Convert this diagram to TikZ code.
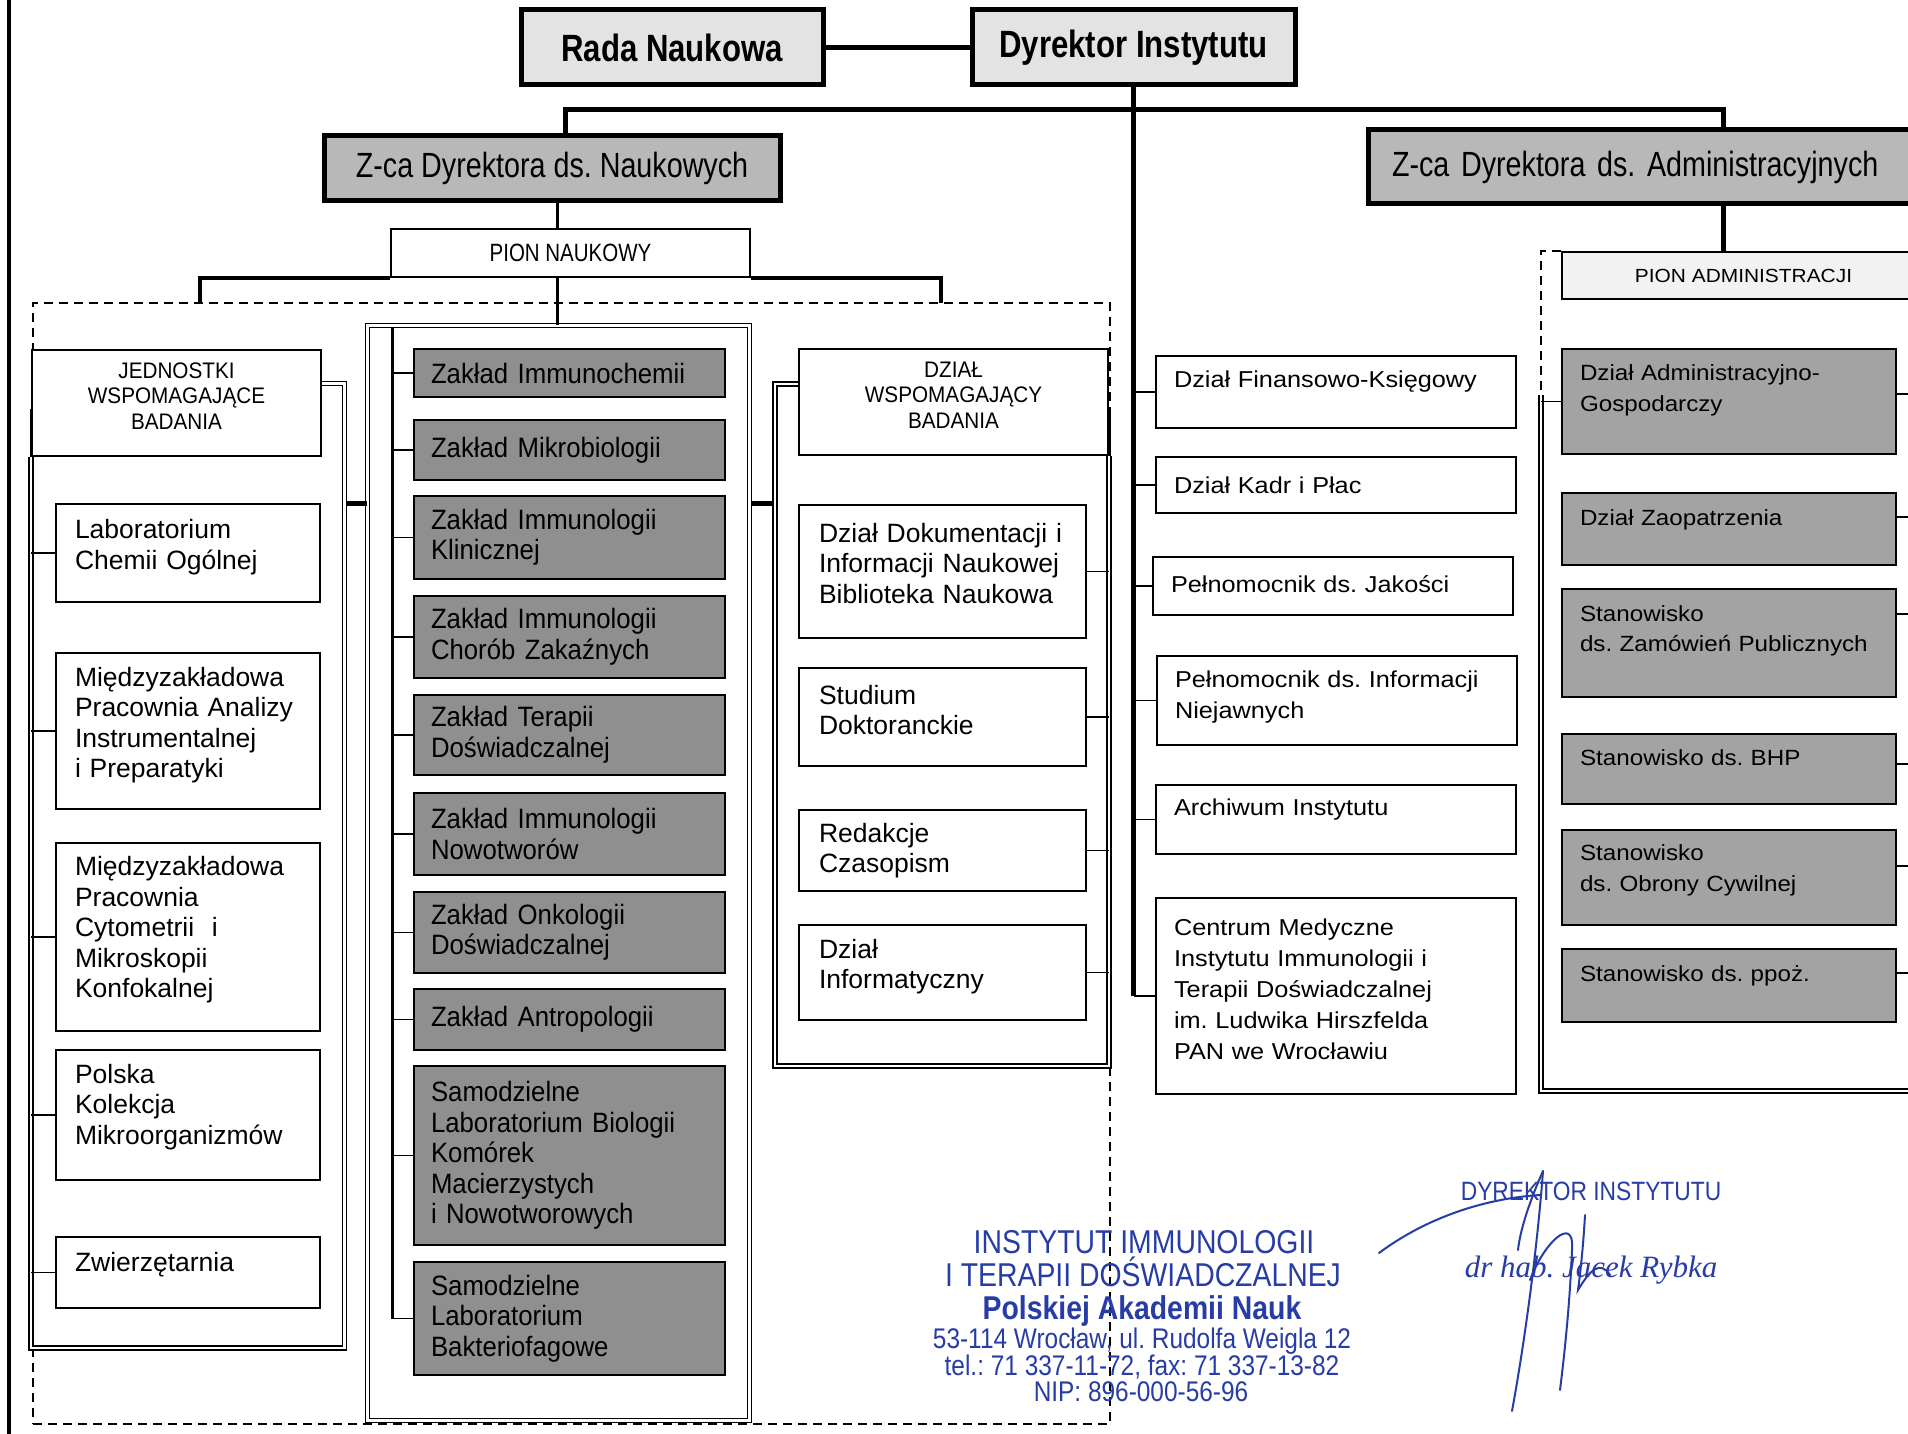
\documentclass[tikz,border=0pt]{standalone}
\usepackage{fontspec}
\setmainfont{Liberation Sans}
\newfontfamily\narrowf{Liberation Sans}[FakeStretch=0.82]
\newfontfamily\zakf{Liberation Sans}[FakeStretch=0.92]
\newfontfamily\widef{Liberation Sans}[FakeStretch=1.1]
\newfontfamily\stampf{Liberation Sans}[FakeStretch=0.86]
\newfontfamily\sigf{Liberation Serif}
\frenchspacing
\definecolor{topgray}{gray}{0.89}
\definecolor{zgray}{gray}{0.72}
\definecolor{dgray}{gray}{0.56}
\definecolor{rgray}{gray}{0.64}
\definecolor{pagray}{gray}{0.95}
\definecolor{stampblue}{RGB}{40,60,165}
\tikzset{
  conn/.style={line width=5pt},
  midline/.style={line width=3pt},
  thinline/.style={line width=1.6pt},
  dbl/.style={draw, double, line width=1.3pt, double distance=2.6pt},
  dframe/.style={draw, dashed, dash pattern=on 9pt off 6pt, line width=1.5pt},
  raisetext/.style={execute at end node={\par\vspace*{#1pt}}},
  topbox/.style={draw, line width=5pt, fill=topgray, inner sep=0pt, font=\narrowf\bfseries\fontsize{38}{44}\selectfont},
  zcbox/.style={draw, line width=5pt, fill=zgray, inner sep=0pt, font=\narrowf\fontsize{35}{40}\selectfont},
  pionbox/.style={draw, line width=1.8pt, inner sep=0pt},
  headbox/.style={draw, line width=2pt, fill=white, align=center, inner xsep=0pt, inner ysep=0pt, text width=280pt, font=\zakf\fontsize{22.5}{25.5}\selectfont},
  wbox/.style={draw, line width=2pt, fill=white, align=left, inner xsep=19pt, inner ysep=0pt, text width=226pt, minimum width=264pt, font=\fontsize{26.5}{30.5}\selectfont},
  ddbox/.style={draw, line width=2pt, fill=white, align=left, inner xsep=20pt, inner ysep=0pt, text width=247pt, minimum width=287pt, font=\fontsize{26.5}{30.5}\selectfont},
  dbox/.style={draw, line width=2.5pt, fill=dgray, align=left, inner xsep=17pt, inner ysep=0pt, text width=277pt, minimum width=311pt, font=\zakf\fontsize{28}{30.5}\selectfont},
  mbox/.style={draw, line width=2pt, fill=white, align=left, inner xsep=18pt, inner ysep=0pt, text width=324pt, minimum width=360pt, font=\widef\fontsize{23}{31}\selectfont},
  rbox/.style={draw, line width=2.5pt, fill=rgray, align=left, inner xsep=18pt, inner ysep=0pt, text width=298pt, minimum width=334pt, font=\widef\fontsize{22}{30.5}\selectfont},
  stampbig/.style={text=stampblue, inner sep=0pt, text height=24pt, text depth=0pt, font=\stampf\fontsize{33}{36}\selectfont},
  stampsmall/.style={text=stampblue, inner sep=0pt, text height=20pt, text depth=0pt, font=\stampf\fontsize{28.4}{31}\selectfont},
  sig/.style={draw=stampblue, line width=2pt, line cap=round}
}
\begin{document}
\begin{tikzpicture}[x=1pt,y=-1pt]
\useasboundingbox (0,0) rectangle (1908,1434);
\clip (0,0) rectangle (1908,1434);
\fill[white] (0,0) rectangle (1908,1434);

% left edge line
\coordinate (le1) at (9,0);
\coordinate (le2) at (9,1434);
\draw[line width=4pt] (le1) -- (le2);

% dashed frame of scientific division
\node[dframe, minimum width=1077pt, minimum height=1121pt, inner sep=0pt] (dsh) at (571.5,863.5) {};

% top level
\node[topbox, minimum width=302pt, minimum height=75pt] (rada) at (672,47.5) {Rada Naukowa};
\node[topbox, minimum width=323pt, minimum height=75pt] (dyr) at (1133.5,47.5) {Dyrektor Instytutu};
\node[zcbox, minimum width=456pt, minimum height=65pt] (zn) at (552,168.5) {Z-ca Dyrektora ds. Naukowych};
\node[zcbox, minimum width=557pt, minimum height=74pt, align=left, inner xsep=24pt, text width=509pt] (za) at (1646.5,167) {Z-ca Dyrektora ds. Administracyjnych};
\node[pionbox, fill=white, minimum width=359pt, minimum height=48pt, font=\narrowf\fontsize{25}{28}\selectfont] (pn) at (570.5,253) {PION NAUKOWY};
\node[pionbox, fill=pagray, minimum width=363pt, minimum height=47pt, font=\widef\fontsize{19}{22}\selectfont] (pa) at (1743.5,275.5) {PION ADMINISTRACJI};

% containers
\node[dbl, minimum width=382pt, minimum height=1095pt, inner sep=0pt] (cc) at (558.5,873) {};

% connectors top
\draw[conn] (rada) -- (dyr);
\coordinate (hl) at (565,110);
\coordinate (hr) at (1723,110);
\draw[conn] (zn.north -| hl) -- (hl) -- (hr) -- (za.north -| hr);
\coordinate (vn) at (557,250);
\draw[midline] (zn.south -| vn) -- (pn.north -| vn);
\draw[midline] (pn.south -| vn) -- (cc.north -| vn);
\coordinate (bl) at (200,303);
\coordinate (br) at (941,303);
\draw[line width=4pt] (bl) |- (pn.south west);
\draw[line width=4pt] (br) |- (pn.south east);
\draw[conn] (za.south -| hr) -- (pa.north -| hr);

% left group
\node[headbox, minimum width=289pt, minimum height=106pt, raisetext=14] (jed) at (176.5,403) {JEDNOSTKI\\WSPOMAGAJĄCE\\BADANIA};
\coordinate (lcb) at (344.5,1348);
\draw[dbl] ([yshift=19.5pt]jed.east) -| (lcb) -| (jed.south west);
\draw[midline] (jed.south west) -- ([yshift=48pt]jed.south west);
\node[wbox, minimum height=98pt, raisetext=12] (lab) at (188,553) {Laboratorium\\Chemii Ogólnej};
\node[wbox, minimum height=156pt, raisetext=12] (mpa) at (188,731) {Międzyzakładowa\\Pracownia Analizy\\Instrumentalnej\\i Preparatyki};
\node[wbox, minimum height=188pt, raisetext=14] (mpc) at (188,937) {Międzyzakładowa\\Pracownia\\Cytometrii~~i\\Mikroskopii\\Konfokalnej};
\node[wbox, minimum height=130pt, raisetext=16] (pkm) at (188,1115) {Polska\\Kolekcja\\Mikroorganizmów};
\node[wbox, minimum height=71pt, raisetext=16] (zw) at (188,1272.5) {Zwierzętarnia};
\foreach \nm in {lab,mpa,mpc,pkm,zw} \draw[thinline] (\nm.west) -- (\nm.west -| jed.west);

% central group
\coordinate (sp) at (392,328);
\node[dbox, minimum height=48pt] (zi) at (569.5,373) {Zakład Immunochemii};
\node[dbox, minimum height=60pt] (zm) at (569.5,450) {Zakład Mikrobiologii};
\node[dbox, minimum height=83pt] (zk) at (569.5,537.5) {Zakład Immunologii\\Klinicznej};
\node[dbox, minimum height=82pt] (zz) at (569.5,637) {Zakład Immunologii\\Chorób Zakaźnych};
\node[dbox, minimum height=80pt] (zt) at (569.5,735) {Zakład Terapii\\Doświadczalnej};
\node[dbox, minimum height=82pt] (zno) at (569.5,834) {Zakład Immunologii\\Nowotworów};
\node[dbox, minimum height=81pt] (zo) at (569.5,932.5) {Zakład Onkologii\\Doświadczalnej};
\node[dbox, minimum height=61pt] (zan) at (569.5,1019.5) {Zakład Antropologii};
\node[dbox, minimum height=179pt] (zsb) at (569.5,1155.5) {Samodzielne\\Laboratorium Biologii\\Komórek\\Macierzystych\\i Nowotworowych};
\node[dbox, minimum height=113pt] (zbf) at (569.5,1318.5) {Samodzielne\\Laboratorium\\Bakteriofagowe};
\draw[midline] (sp) -- (sp |- zbf.west);
\foreach \nm in {zi,zm,zk,zz,zt,zno,zo,zan,zsb,zbf} \draw[thinline] (\nm.west) -- (\nm.west -| sp);

% links between containers
\coordinate (lk) at (347,503);
\draw[conn] (lk) -- (lk -| cc.west);
\coordinate (rcb) at (775,1066);
\coordinate (rk) at (752,503);
\draw[conn] (rk) -- (rk -| rcb);

% DZIAL group
\node[headbox, minimum width=309pt, minimum height=106pt, raisetext=14] (dz) at (953.5,402) {DZIAŁ\\WSPOMAGAJĄCY\\BADANIA};
\draw[dbl] ([yshift=18pt]dz.west) -| (rcb) -| (dz.south east);
\draw[midline] (dz.south east) -- ([yshift=48pt]dz.south east);
\node[ddbox, minimum height=133pt, raisetext=16] (ddi) at (942.5,571.5) {Dział Dokumentacji i\\Informacji Naukowej\\Biblioteka Naukowa};
\node[ddbox, minimum height=98pt, raisetext=14] (sd2) at (942.5,717) {Studium\\Doktoranckie};
\node[ddbox, minimum height=81pt] (rc) at (942.5,850.5) {Redakcje\\Czasopism};
\node[ddbox, minimum height=95pt, raisetext=12] (di) at (942.5,972.5) {Dział\\Informatyczny};
\foreach \nm in {ddi,sd2,rc,di} \draw[thinline] (\nm.east) -- (\nm.east -| dz.east);

% director's direct units
\node[mbox, minimum height=72pt, raisetext=20] (dfk) at (1336,392) {Dział Finansowo-Księgowy};
\node[mbox, minimum height=56pt] (dkp) at (1336,485) {Dział Kadr i Płac};
\node[mbox, minimum height=58pt, raisetext=4] (pj) at (1333,586) {Pełnomocnik ds. Jakości};
\node[mbox, minimum height=89pt, raisetext=6] (pin) at (1337,700.5) {Pełnomocnik ds. Informacji\\Niejawnych};
\node[mbox, minimum height=69pt, raisetext=20] (ai) at (1336,819.5) {Archiwum Instytutu};
\node[mbox, minimum height=196pt, raisetext=14] (cm) at (1336,996) {Centrum Medyczne\\Instytutu Immunologii i\\Terapii Doświadczalnej\\im. Ludwika Hirszfelda\\PAN we Wrocławiu};
\draw[conn] (dyr.south) -- (dyr.south |- cm.west);
\draw[thinline] (dyr.south |- cm.west) -- (cm.west);
\foreach \nm in {dfk,dkp,pj,pin,ai} \draw[thinline] (\nm.west) -- (\nm.west -| dyr.south);

% administration
\coordinate (rc1) at (1541,395);
\coordinate (rc2) at (1930,1091);
\draw[dframe] (pa.north west) -| (rc1);
\draw[dbl] (rc1) |- (rc2);
\node[rbox, minimum height=105pt, raisetext=22] (dag) at (1729,401.5) {Dział Administracyjno-\\Gospodarczy};
\node[rbox, minimum height=72pt, raisetext=18] (dzp) at (1729,529) {Dział Zaopatrzenia};
\node[rbox, minimum height=108pt, raisetext=24] (szp) at (1729,643) {Stanowisko\\ds. Zamówień Publicznych};
\node[rbox, minimum height=70pt, raisetext=22] (bhp) at (1729,769) {Stanowisko ds. BHP};
\node[rbox, minimum height=95pt, raisetext=14] (soc) at (1729,877.5) {Stanowisko\\ds. Obrony Cywilnej};
\node[rbox, minimum height=73pt, raisetext=20] (spp) at (1729,985.5) {Stanowisko ds. ppoż.};
\draw[thinline] (dag.west) -- (dag.west -| rc1);
\foreach \nm/\sh in {dag/7.5,dzp/12,szp/29,bhp/5,soc/11.5,spp/12.5} \draw[thinline] ([yshift=\sh pt]\nm.east) -- ++(20,0);

% stamp
\node[stampbig] (s1) at (1144,1241) {INSTYTUT IMMUNOLOGII};
\node[stampbig] (s2) at (1143,1274) {I TERAPII DOŚWIADCZALNEJ};
\node[stampbig, font=\stampf\bfseries\fontsize{33}{36}\selectfont] (s3) at (1142,1307) {Polskiej Akademii Nauk};
\node[stampsmall] (s4) at (1142,1338) {53-114 Wrocław, ul. Rudolfa Weigla 12};
\node[stampsmall] (s5) at (1142,1365) {tel.: 71 337-11-72, fax: 71 337-13-82};
\node[stampsmall] (s6) at (1141,1391) {NIP: 896-000-56-96};

% signature
\node[text=stampblue, inner sep=0pt, font=\stampf\fontsize{26.5}{30}\selectfont] (sg1) at (1591,1191) {DYREKTOR INSTYTUTU};
\node[text=stampblue, inner sep=0pt, font=\sigf\itshape\fontsize{31}{34}\selectfont] (sg2) at (1591,1270) {dr hab. Jacek Rybka};
\draw[sig] (1379,1253) .. controls (1430,1215) and (1490,1198) .. (1540,1195);
\draw[sig] (1543,1171) .. controls (1537,1250) and (1525,1340) .. (1512,1411);
\draw[sig] (1543,1171) .. controls (1530,1200) and (1520,1230) .. (1518,1250);
\draw[sig] (1530,1280) .. controls (1545,1240) and (1575,1215) .. (1572,1250) .. controls (1570,1300) and (1565,1350) .. (1560,1390);
\draw[sig] (1585,1215) .. controls (1583,1250) and (1580,1275) .. (1578,1290) .. controls (1590,1270) and (1600,1260) .. (1610,1275);
\end{tikzpicture}
\end{document}
